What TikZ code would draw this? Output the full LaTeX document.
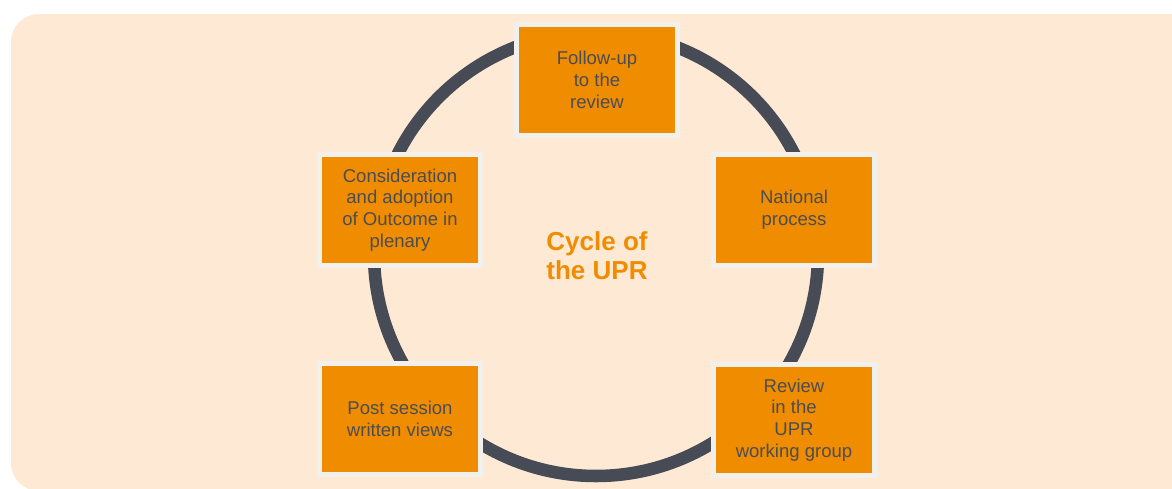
\documentclass[tikz,border=0pt]{standalone}
\usepackage{fontspec}
\setmainfont{Liberation Sans}
\usetikzlibrary{positioning}

\definecolor{panel}{HTML}{FEE9D4}
\definecolor{uprorange}{HTML}{F08C00}
\definecolor{boxedge}{HTML}{F1F0EC}
\definecolor{boxtext}{HTML}{4B4D52}
\definecolor{ringgray}{HTML}{474B55}

\begin{document}
\begin{tikzpicture}[
	x = 0.75pt, y = -0.75pt,
	stage/.style = {draw=boxedge, line width=3.75pt, fill=uprorange,
		minimum width=120.75pt, minimum height=83.25pt, inner sep=0pt,
		align=center, text=boxtext, font=\fontsize{13.9}{16.3}\selectfont},
	ring/.style = {draw=ringgray, line width=9.4pt},
	title/.style = {align=center, text=uprorange,
		font=\fontsize{19.5}{22}\selectfont\bfseries}
	]
	\useasboundingbox (0,0) rectangle (1172,489);
	\begin{scope}
		\clip (0,0) rectangle (1172,489);
		\fill[panel, rounded corners=21pt] (11,14) rectangle (1210,491);
	\end{scope}
	% the cycle
	\node[title] (hub) at (597,256) {Cycle of\\the UPR};
	\draw[ring] (596,254) circle[radius=166.5pt];
	% stages
	\node[stage] (follow)   at (597,80)  {Follow-up\\to the\\review};
	\node[stage] (national) at (794,210) {National\\process};
	\node[stage] (review)   at (794,420) {Review\\in the\\UPR\\working group};
	\node[stage] (post)     at (400,419) {Post session\\written views};
	\node[stage] (plenary)  at (400,210) {Consideration\\and adoption\\of Outcome in\\plenary};
\end{tikzpicture}
\end{document}
